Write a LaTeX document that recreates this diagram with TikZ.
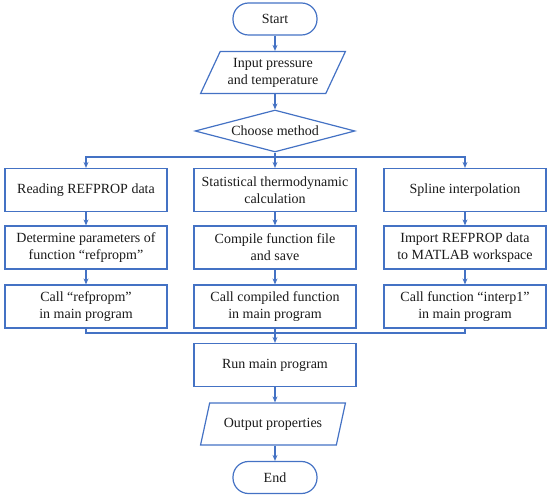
\documentclass[tikz,border=0pt]{standalone}
\usepackage{fontspec}
\setmainfont{Liberation Serif}
\usetikzlibrary{arrows.meta,positioning,shapes.geometric}
\definecolor{lineColor}{HTML}{4472C4}
\definecolor{textColor}{HTML}{1A1A1A}
\begin{document}
\begin{tikzpicture}[
    x=1pt, y=-1pt,
    >={Stealth[length=6pt,width=5pt]},
    font=\fontsize{14}{17}\selectfont,
    every node/.style={text=textColor, align=center},
    terminal/.style={rectangle, rounded corners=15.5pt, draw=lineColor, line width=1.2pt,
        minimum width=84pt, minimum height=32pt},
    process/.style={rectangle, draw=lineColor, line width=1.2pt, inner sep=0pt,
        minimum width=162pt, minimum height=43pt},
    io/.style={trapezium, trapezium left angle=60, trapezium right angle=120,
        trapezium stretches=true, draw=lineColor, line width=1.2pt, inner sep=0pt,
        minimum width=145pt, minimum height=42pt},
    decision/.style={diamond, aspect=3.8, draw=lineColor, line width=1.2pt, inner sep=0pt,
        minimum width=160pt, minimum height=42pt},
    link/.style={draw=lineColor, line width=1.2pt}
    ]
    
    % Canvas
    \useasboundingbox (0,0) rectangle (550,497);
    
    % Main spine
    \node[terminal] (start)  at (275,19)    {Start};
    \node[io]       (input)  at (273,72.5)  {Input pressure\\and temperature};
    \node[decision] (choose) at (275,131)   {Choose method};
    \coordinate     (split)  at (275,157);
    
    % Three methods
    \node[process] (read)    at (86,190)    {Reading REFPROP data};
    \node[process] (stat)    at (275,190)   {Statistical thermodynamic\\calculation};
    \node[process] (spline)  at (465,190)   {Spline interpolation};
    
    \node[process] (param)   at (86,247.5)  {Determine parameters of\\function ``refpropm''};
    \node[process] (compile) at (275,247.5) {Compile function file\\and save};
    \node[process] (import)  at (465,247.5) {Import REFPROP data\\to MATLAB workspace};
    
    \node[process] (callref) at (86,306.5)  {Call ``refpropm''\\in main program};
    \node[process] (callcmp) at (275,306.5) {Call compiled function\\in main program};
    \node[process] (callint) at (465,306.5) {Call function ``interp1''\\in main program};
    
    % Merge and output
    \coordinate     (merge)  at (275,333);
    \node[process]  (run)    at (275,365)   {Run main program};
    \node[io]       (output) at (273,424)   {Output properties};
    \node[terminal] (end)    at (275,477.5) {End};
    
    % Connectors
    \draw[link,->] (start) -- (start |- input.north);
    \draw[link,->] (start |- input.south) -- (choose);
    \draw[link] (choose) -- (split);
    \draw[link,->] (split) -| (read);
    \draw[link,->] (split) -- (stat);
    \draw[link,->] (split) -| (spline);
    
    \draw[link,->] (read) -- (param);
    \draw[link,->] (stat) -- (compile);
    \draw[link,->] (spline) -- (import);
    \draw[link,->] (param) -- (callref);
    \draw[link,->] (compile) -- (callcmp);
    \draw[link,->] (import) -- (callint);
    
    \draw[link] (callref) |- (merge) -| (callint);
    \draw[link] (callcmp) -- (merge);
    \draw[link,->] (merge) -- (run);
    \draw[link,->] (run) -- (run |- output.north);
    \draw[link,->] (run |- output.south) -- (end);
\end{tikzpicture}
\end{document}
